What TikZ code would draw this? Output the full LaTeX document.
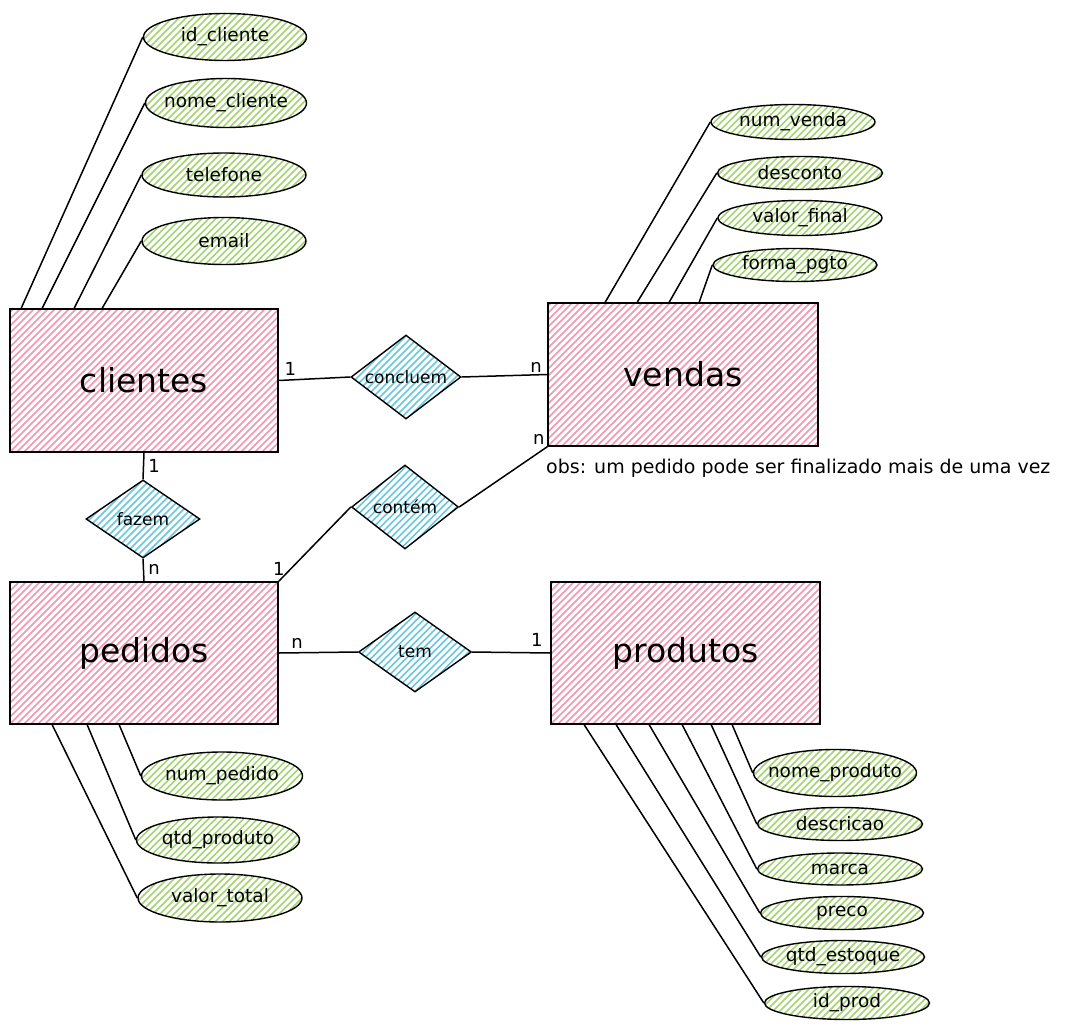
\documentclass[tikz,border=0pt]{standalone}
\usepackage{fontspec}
\setmainfont{DejaVu Sans}
\usetikzlibrary{shapes.geometric}

\definecolor{rosa}{RGB}{242,150,178}
\definecolor{verde}{RGB}{165,212,115}
\definecolor{azul}{RGB}{105,200,222}

\tikzset{hachura/.style={path picture={
    \foreach \i in {-175,-168,...,295}
        \draw[#1,line width=1.6pt] ([xshift=\i pt]path picture bounding box.south west) -- ++(200,-200);
}}}

\begin{document}
\begin{tikzpicture}[x=1pt,y=-1pt]
        \tikzstyle{every node}=[font=\fontsize{18.5}{22}\selectfont]
        \tikzstyle{entidade}=[rectangle,draw,line width=1.6pt,inner sep=0pt,hachura=rosa,
            font=\fontsize{33}{38}\selectfont]
        \tikzstyle{atributo}=[ellipse,draw,line width=1.4pt,inner xsep=-30pt,inner ysep=-4pt,hachura=verde]
        \tikzstyle{relacao}=[diamond,draw,line width=1.4pt,inner sep=0pt,aspect=1.3,hachura=azul,
            font=\fontsize{17}{20}\selectfont]
        \tikzstyle{card}=[font=\fontsize{18}{20}\selectfont,inner sep=2pt]
        \tikzstyle{liga}=[line width=1.5pt]

        \useasboundingbox (0,0) rectangle (1068,1030);

        %%% Entidades
        \node[entidade,minimum width=268pt,minimum height=143pt] (clientes) at (144,380.5) {clientes};
        \node[entidade,minimum width=270pt,minimum height=143pt] (vendas) at (683,374.5) {vendas};
        \node[entidade,minimum width=268pt,minimum height=142pt] (pedidos) at (144,653) {pedidos};
        \node[entidade,minimum width=269pt,minimum height=142pt] (produtos) at (685.5,653) {produtos};

        %%% Relacionamentos
        \node[relacao,minimum width=110pt,minimum height=84pt] (concluem) at (406,377) {concluem};
        \node[relacao,minimum width=107pt,minimum height=84pt] (contem) at (405,507) {contém};
        \node[relacao,minimum width=114pt,minimum height=78pt] (fazem) at (143,519) {fazem};
        \node[relacao,minimum width=113pt,minimum height=80pt] (tem) at (415,652) {tem};

        %%% Atributos de clientes
        \node[atributo,minimum width=163pt,minimum height=47pt] (idcliente) at (225,37) {id\_cliente};
        \node[atributo,minimum width=161pt,minimum height=49pt] (nomecliente) at (226,103) {nome\_cliente};
        \node[atributo,minimum width=164pt,minimum height=44pt] (telefone) at (224,175) {telefone};
        \node[atributo,minimum width=164pt,minimum height=47pt] (email) at (224,241) {email};

        %%% Atributos de vendas
        \node[atributo,minimum width=164pt,minimum height=35pt] (numvenda) at (793,122) {num\_venda};
        \node[atributo,minimum width=165pt,minimum height=33pt] (desconto) at (800,173) {desconto};
        \node[atributo,minimum width=164pt,minimum height=35pt] (valorfinal) at (800,218) {valor\_final};
        \node[atributo,minimum width=164pt,minimum height=33pt] (formapgto) at (795,265) {forma\_pgto};

        %%% Atributos de pedidos
        \node[atributo,minimum width=161pt,minimum height=48pt] (numpedido) at (222,776) {num\_pedido};
        \node[atributo,minimum width=163pt,minimum height=46pt] (qtdproduto) at (218,840) {qtd\_produto};
        \node[atributo,minimum width=164pt,minimum height=48pt] (valortotal) at (220,898) {valor\_total};

        %%% Atributos de produtos
        \node[atributo,minimum width=163pt,minimum height=47pt] (nomeproduto) at (835,773) {nome\_produto};
        \node[atributo,minimum width=165pt,minimum height=33pt] (descricao) at (840,824) {descricao};
        \node[atributo,minimum width=165pt,minimum height=32pt] (marca) at (840,869) {marca};
        \node[atributo,minimum width=163pt,minimum height=33pt] (preco) at (842,913) {preco};
        \node[atributo,minimum width=163pt,minimum height=33pt] (qtdestoque) at (843,957) {qtd\_estoque};
        \node[atributo,minimum width=165pt,minimum height=33pt] (idprod) at (847,1003) {id\_prod};

        \node[anchor=west,inner sep=0pt,font=\fontsize{19}{22}\selectfont] (obs) at (546,468) {obs: um pedido pode ser finalizado mais de uma vez};

        %%% Ligacoes
        \draw[liga] (clientes.east) edge node[card,pos=0.16,above,yshift=2pt] {1} (concluem.west);
        \draw[liga] (concluem.east) edge node[card,pos=0.87,above] {n} (vendas.west);
        \draw[liga] (clientes.south) edge node[card,pos=0.5,right,xshift=2pt] {1} (fazem.north);
        \draw[liga] (fazem.south) edge node[card,pos=0.5,right,xshift=2pt] {n} (pedidos.north);
        \draw[liga] (pedidos.north east) edge node[card,pos=0,above,yshift=3pt] {1} (contem.west);
        \draw[liga] (contem.east) edge node[card,pos=1,above left] {n} (vendas.south west);
        \draw[liga] (pedidos.east) edge node[card,pos=0.23,above,yshift=2pt] {n} (tem.west);
        \draw[liga] (tem.east) edge node[card,pos=0.83,above,yshift=4pt] {1} (produtos.west);

        \draw[liga] (idcliente.west) -- ([xshift=12pt]clientes.north west);
        \draw[liga] (nomecliente.west) -- ([xshift=33pt]clientes.north west);
        \draw[liga] (telefone.west) -- ([xshift=65pt]clientes.north west);
        \draw[liga] (email.west) -- ([xshift=93pt]clientes.north west);

        \draw[liga] (numvenda.west) -- ([xshift=58pt]vendas.north west);
        \draw[liga] (desconto.west) -- ([xshift=90pt]vendas.north west);
        \draw[liga] (valorfinal.west) -- ([xshift=122pt]vendas.north west);
        \draw[liga] (formapgto.west) -- ([xshift=152pt]vendas.north west);

        \draw[liga] (numpedido.west) -- ([xshift=110pt]pedidos.south west);
        \draw[liga] (qtdproduto.west) -- ([xshift=78pt]pedidos.south west);
        \draw[liga] (valortotal.west) -- ([xshift=43pt]pedidos.south west);

        \draw[liga] (nomeproduto.west) -- ([xshift=182pt]produtos.south west);
        \draw[liga] (descricao.west) -- ([xshift=161pt]produtos.south west);
        \draw[liga] (marca.west) -- ([xshift=132pt]produtos.south west);
        \draw[liga] (preco.west) -- ([xshift=99pt]produtos.south west);
        \draw[liga] (qtdestoque.west) -- ([xshift=66pt]produtos.south west);
        \draw[liga] (idprod.west) -- ([xshift=34pt]produtos.south west);
\end{tikzpicture}
\end{document}
